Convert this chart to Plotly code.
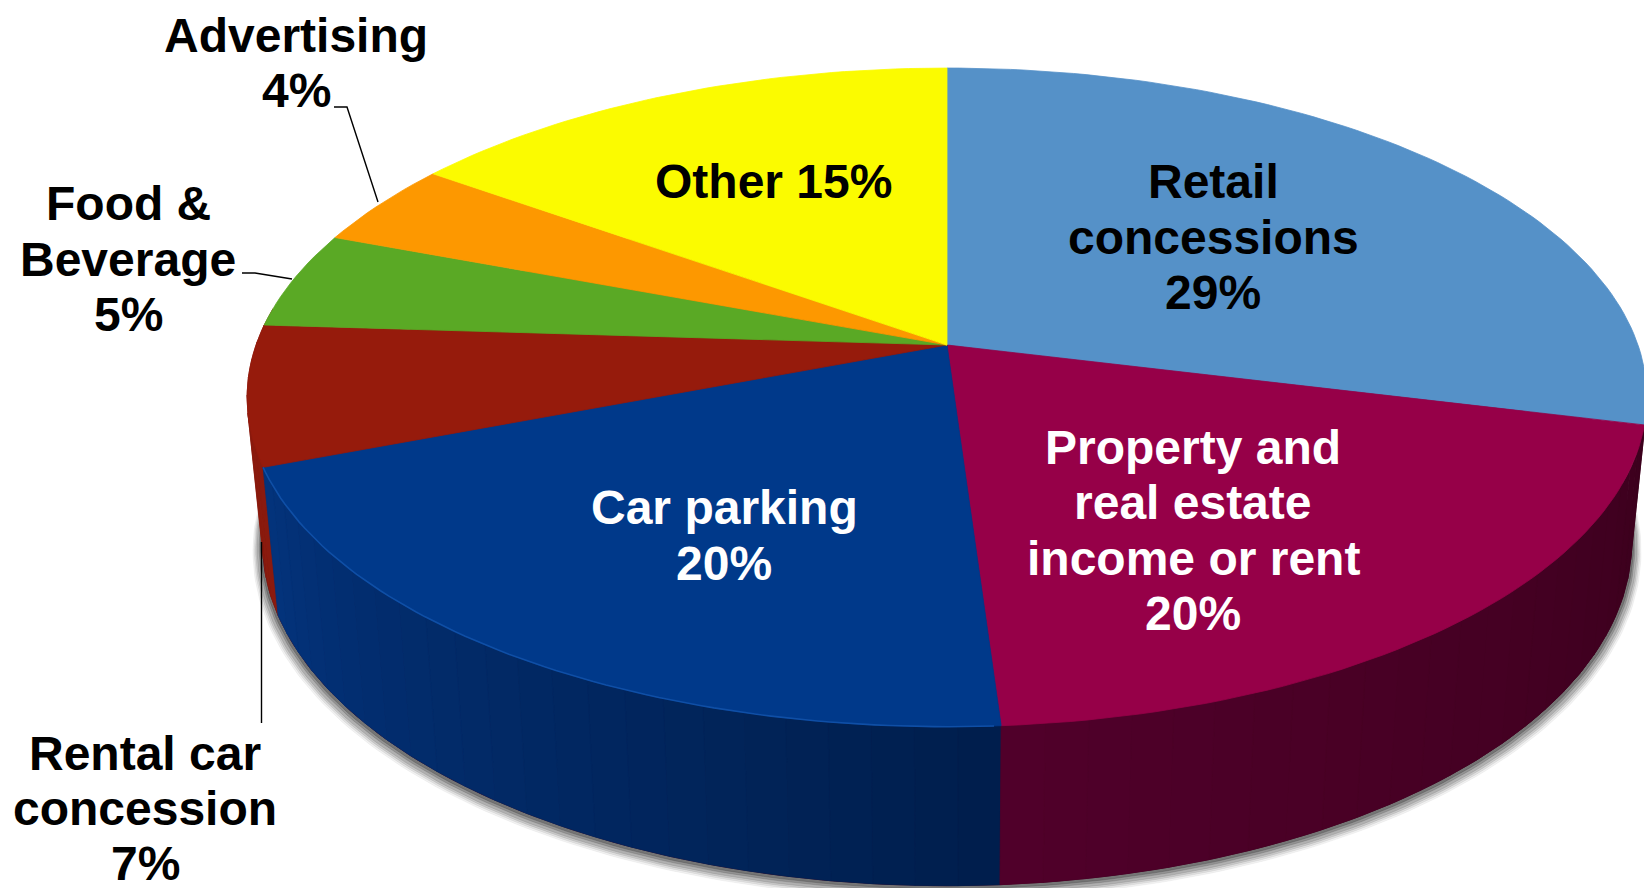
import numpy as np
import plotly.graph_objects as go

# ---- data ----
categories = ["Retail concessions", "Property and real estate income or rent", "Car parking",
              "Rental car concession", "Food & Beverage", "Advertising", "Other"]
values = [28.85, 20.1, 20.2, 6.85, 4.75, 4.15, 15.1]
top_colors = ["#5591c8", "#960048", "#00398a", "#961b0c", "#5aa925", "#fd9800", "#fbfb00"]
side_from = [None, "#3a001c", "#001e4c", "#8a1a0e", None, None, None]
side_to = [None, "#50002a", "#03337c", "#8a1a0e", None, None, None]

label_lines = [
    (["Retail", "concessions", "29%"], 1213, [181, 237, 292], "black"),
    (["Property and", "real estate", "income or rent", "20%"], 1193, [447, 502, 558, 613], "white"),
    (["Car parking", "20%"], 724, [507, 563], "white"),
    (["Rental car", "concession", "7%"], 145, [753, 808, 863], "black"),
    (["Food &", "Beverage", "5%"], 128, [203, 259, 314], "black"),
    (["Advertising", "4%"], 296, [35, 90], "black"),
    (["Other 15%"], 773, [181], "black"),
]
leaders = [
    ([334, 347, 378], [107, 107, 202]),
    ([242, 255, 292], [273, 273, 279]),
    ([261.5, 261.5], [542, 723]),
]

# ---- projection of the tilted disc ----
CX, CY, B, A, K = 947, 345, 691, 321, 0.159
SX, SY, Y0 = 0.978, 1.042, 143


def project(theta_deg):
    t = np.radians(theta_deg)
    u, v = np.sin(t), np.cos(t)
    return B * u / (1 + K * v), A * (-v) / (1 + K * v)


def top(theta):
    x, y = project(theta)
    return CX + x, CY + y


def bottom(theta, grow=0.0, dy=0.0):
    x, y = project(theta)
    return CX + x * SX * (1 + grow), CY + Y0 + dy + y * SY * (1 + grow)


def mix(c1, c2, f):
    a = [int(c1[i:i + 2], 16) for i in (1, 3, 5)]
    b = [int(c2[i:i + 2], 16) for i in (1, 3, 5)]
    return "rgb(%d,%d,%d)" % tuple(round(p + (q - p) * f) for p, q in zip(a, b))


def poly(fig, x, y, color):
    fig.add_trace(go.Scatter(x=list(x), y=list(y), mode="lines", fill="toself", fillcolor=color,
                             line=dict(color=color, width=0.8), hoverinfo="skip", showlegend=False))


fig = go.Figure()
edges = np.concatenate([[0], np.cumsum(values)]) * 3.6

# soft shadow under the lower rim
ring = np.linspace(0, 360, 361)
for grow, dy, alpha in [(0.014, 8, .05), (0.012, 7, .07), (0.010, 6, .10), (0.008, 5, .12), (0.005, 3.5, .16),
                        (0.003, 2, .2)]:
    sx, sy = bottom(ring, grow, dy)
    poly(fig, sx, sy, f"rgba(0,0,0,{alpha})")

# lower disc, hidden by the rim and top
bx, by = bottom(ring)
poly(fig, bx, by, "#3a001c")

# rim: painted slice by slice with a horizontal shade
for i in [3, 2, 1]:
    a0, a1 = edges[i], edges[i + 1]
    if i == 1:
        a0 -= 8
    if i == 3:
        a1 += 3
    steps = np.linspace(a0, a1, max(int((a1 - a0) / 3), 2) + 1)
    for j in range(len(steps) - 1):
        th = np.linspace(steps[j], steps[j + 1], 5)
        f = (j + .5) / (len(steps) - 1)
        xt, yt = top(th)
        xb, yb = bottom(th)
        poly(fig, np.r_[xt, xb[::-1], xt[0]], np.r_[yt, yb[::-1], yt[0]], mix(side_from[i], side_to[i], f))

# top of the pie
for i, name in enumerate(categories):
    th = np.linspace(edges[i], edges[i + 1], max(int(values[i] * 3), 8))
    xt, yt = top(th)
    poly(fig, np.r_[CX, xt, CX], np.r_[CY, yt, CY], top_colors[i])

# light edge along the front of the car parking slice
xe, ye = top(np.linspace(edges[2] + .5, edges[3], 70))
fig.add_trace(go.Scatter(x=xe, y=ye, mode="lines", line=dict(color="#0f4fa6", width=1.6),
                         hoverinfo="skip", showlegend=False))

for lx, ly in leaders:
    fig.add_trace(go.Scatter(x=lx, y=ly, mode="lines", line=dict(color="black", width=1.4),
                             hoverinfo="skip", showlegend=False))

annotations = []
for lines, x, ys, color in label_lines:
    for line, y in zip(lines, ys):
        annotations.append(dict(x=x, y=y, text="<b>" + line.replace("&", "&amp;") + "</b>", showarrow=False,
                                xanchor="center", yanchor="middle",
                                font=dict(family="Liberation Sans", size=48, color=color)))

fig.update_layout(width=1644, height=888, margin=dict(l=0, r=0, t=0, b=0), paper_bgcolor="white",
                  plot_bgcolor="white", showlegend=False, annotations=annotations,
                  xaxis=dict(range=[0, 1644], visible=False, fixedrange=True),
                  yaxis=dict(range=[888, 0], visible=False, fixedrange=True))
fig.write_html("out.html", config=dict(displayModeBar=False),
               post_script="document.body.style.margin='0';document.body.style.overflow='hidden';")
